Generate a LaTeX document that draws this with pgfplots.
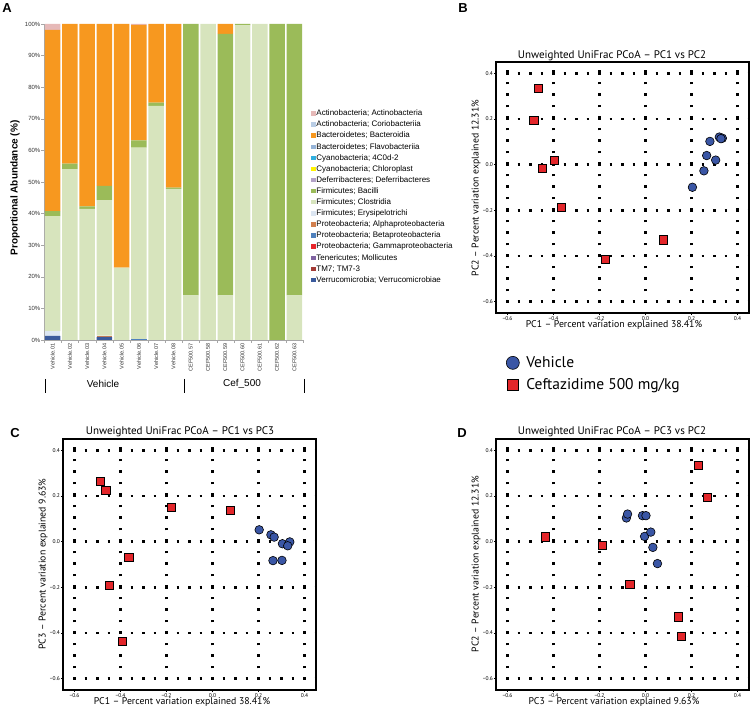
\documentclass[border=0pt]{standalone}
\usepackage{fontspec}
\setmainfont{Liberation Sans}
\newfontfamily\myr{PT Sans}
\usepackage{pgfplots}
\usepackage{pgfplotstable}
\pgfplotsset{compat=1.18}

\definecolor{cAct}{HTML}{E6B9B8}
\definecolor{cCor}{HTML}{B9CDE5}
\definecolor{cBact}{HTML}{F7981F}
\definecolor{cFlav}{HTML}{95B3D7}
\definecolor{cCfour}{HTML}{31B0E0}
\definecolor{cChl}{HTML}{FFF200}
\definecolor{cDef}{HTML}{B3A2C7}
\definecolor{cBac}{HTML}{9BBB59}
\definecolor{cClos}{HTML}{D7E4BD}
\definecolor{cErys}{HTML}{DCE6F2}
\definecolor{cAlpha}{HTML}{D2804F}
\definecolor{cBeta}{HTML}{4F81BD}
\definecolor{cGam}{HTML}{E8262A}
\definecolor{cTen}{HTML}{8064A2}
\definecolor{cTM}{HTML}{A33B36}
\definecolor{cVerr}{HTML}{3A5A9C}
\definecolor{vblue}{HTML}{3A56A5}
\definecolor{cred}{HTML}{E3262A}

\pgfplotstableread{
x Verr TM Ten Gam Beta Alpha Erys Clos Bac Def Chl Cfour Flav Bact Cor Act
0  1.3 0 0 0 0   0   1.5 36.4 1.6  0 0 0 0 57.3 0 1.9
1  0   0 0 0 0   0   0   54.1 1.7  0 0 0 0 44.2 0 0
2  0   0 0 0 0   0   0   41.5 0.8  0 0 0 0 57.7 0 0
3  1.0 0 0 0 0   0.4 0   42.9 4.5  0 0 0 0 51.2 0 0
4  0   0 0 0 0   0   0   22.9 0    0 0 0 0 77.1 0 0
5  0   0 0 0 0.3 0   0   60.6 2.3  0 0 0 0 36.5 0 0.3
6  0   0 0 0 0   0   0   74.1 1.0  0 0 0 0 24.9 0 0
7  0   0 0 0 0   0   0   47.8 0.4  0 0 0 0 51.8 0 0
8  0   0 0 0 0   0   0   14.1 85.9 0 0 0 0 0    0 0
9  0   0 0 0 0   0   0   100  0    0 0 0 0 0    0 0
10 0   0 0 0 0   0   0   14.1 82.8 0 0 0 0 3.1  0 0
11 0   0 0 0 0   0   0   99.6 0.4  0 0 0 0 0    0 0
12 0   0 0 0 0   0   0   100  0    0 0 0 0 0    0 0
13 0   0 0 0 0   0   0   0    100  0 0 0 0 0    0 0
14 0   0 0 0 0   0   0   14.1 85.9 0 0 0 0 0    0 0
}\bardata

\pgfplotsset{
  sqleg/.style={legend image code/.code={\fill[##1] (0pt,-2.2pt) rectangle (4.4pt,2.2pt);}},
  pcoa/.style={
    width=253pt, height=251pt, scale only axis,
    xmin=-0.65, xmax=0.45, ymin=-0.65, ymax=0.45,
    xtick={-0.6,-0.4,-0.2,0,0.2,0.4},
    ytick={-0.6,-0.4,-0.2,0,0.2,0.4},
    xticklabels={−0.6,−0.4,−0.2,0.0,0.2,0.4},
    yticklabels={−0.6,−0.4,−0.2,0.0,0.2,0.4},
    ticklabel style={font=\myr\fontsize{5.5}{6}\selectfont, inner sep=1pt},
    tick pos=left, tick align=outside, major tick length=2pt,
    tick style={black, line width=0.8pt},
    axis line style={line width=1.4pt},
    grid=major,
    major grid style={black, line width=2.6pt, dash pattern=on 2.6pt off 8.9pt, dash phase=1.3pt},
  },
  vmark/.style={only marks, mark=*, mark size=4.3pt, mark options={fill=vblue, draw=black, line width=0.6pt}},
  cmark/.style={only marks, mark=square*, mark size=4.1pt, mark options={fill=cred, draw=black, line width=0.6pt}},
}

\begin{document}
\begin{tikzpicture}
\useasboundingbox (0,0) rectangle (750pt,708pt);

% ---------------- Panel A ----------------
\begin{axis}[
  at={(44pt,368pt)}, anchor=south west,
  width=259pt, height=316pt, scale only axis,
  ybar stacked, bar width=15.5pt,
  xmin=-0.5, xmax=14.5, ymin=0, ymax=100,
  axis x line*=bottom, axis y line*=left,
  axis line style={gray!70, line width=0.4pt},
  xtick={0,...,14},
  xticklabels={Vehicle.01,Vehicle.02,Vehicle.03,Vehicle.04,Vehicle.05,Vehicle.06,Vehicle.07,Vehicle.08,CEF500.57,CEF500.58,CEF500.59,CEF500.60,CEF500.61,CEF500.62,CEF500.63},
  xticklabel style={rotate=90, anchor=east, font=\fontsize{5.5}{6}\selectfont, text=black!80, inner sep=1pt},
  major x tick style={draw=none},
  minor xtick={-0.5,0.5,...,14.5},
  minor x tick style={gray!70},
  minor tick length=3pt,
  ytick={0,10,...,100},
  yticklabels={0\%,10\%,20\%,30\%,40\%,50\%,60\%,70\%,80\%,90\%,100\%},
  yticklabel style={font=\fontsize{6}{7}\selectfont, text=black!80, inner sep=1pt},
  major y tick style={gray!70},
  tick align=outside, major tick length=2.5pt,
  reverse legend,
  legend cell align=left,
  legend style={at={(1.031,0.735)}, anchor=north west, draw=none, fill=none,
    font=\fontsize{8}{9}\selectfont, inner sep=0pt, row sep=0pt,
    nodes={inner ysep=0.8pt, inner xsep=0.8pt, text height=7pt, text depth=2.5pt}},
]
\addplot[fill=cVerr, draw=none, sqleg] table[x=x,y=Verr]{\bardata};
\addlegendentry{Verrucomicrobia; Verrucomicrobiae}
\addplot[fill=cTM, draw=none, sqleg] table[x=x,y=TM]{\bardata};
\addlegendentry{TM7; TM7-3}
\addplot[fill=cTen, draw=none, sqleg] table[x=x,y=Ten]{\bardata};
\addlegendentry{Tenericutes; Mollicutes}
\addplot[fill=cGam, draw=none, sqleg] table[x=x,y=Gam]{\bardata};
\addlegendentry{Proteobacteria; Gammaproteobacteria}
\addplot[fill=cBeta, draw=none, sqleg] table[x=x,y=Beta]{\bardata};
\addlegendentry{Proteobacteria; Betaproteobacteria}
\addplot[fill=cAlpha, draw=none, sqleg] table[x=x,y=Alpha]{\bardata};
\addlegendentry{Proteobacteria; Alphaproteobacteria}
\addplot[fill=cErys, draw=none, sqleg] table[x=x,y=Erys]{\bardata};
\addlegendentry{Firmicutes; Erysipelotrichi}
\addplot[fill=cClos, draw=none, sqleg] table[x=x,y=Clos]{\bardata};
\addlegendentry{Firmicutes; Clostridia}
\addplot[fill=cBac, draw=none, sqleg] table[x=x,y=Bac]{\bardata};
\addlegendentry{Firmicutes; Bacilli}
\addplot[fill=cDef, draw=none, sqleg] table[x=x,y=Def]{\bardata};
\addlegendentry{Deferribacteres; Deferribacteres}
\addplot[fill=cChl, draw=none, sqleg] table[x=x,y=Chl]{\bardata};
\addlegendentry{Cyanobacteria; Chloroplast}
\addplot[fill=cCfour, draw=none, sqleg] table[x=x,y=Cfour]{\bardata};
\addlegendentry{Cyanobacteria; 4C0d-2}
\addplot[fill=cFlav, draw=none, sqleg] table[x=x,y=Flav]{\bardata};
\addlegendentry{Bacteroidetes; Flavobacteriia}
\addplot[fill=cBact, draw=none, sqleg] table[x=x,y=Bact]{\bardata};
\addlegendentry{Bacteroidetes; Bacteroidia}
\addplot[fill=cCor, draw=none, sqleg] table[x=x,y=Cor]{\bardata};
\addlegendentry{Actinobacteria; Coriobacteriia}
\addplot[fill=cAct, draw=none, sqleg] table[x=x,y=Act]{\bardata};
\addlegendentry{Actinobacteria; Actinobacteria}
\end{axis}

\node[rotate=90, font=\bfseries\fontsize{10}{12}\selectfont] at (15pt,520pt) {Proportional Abundance (\%)};
\draw[black, line width=0.9pt] (45pt,329pt) -- (45pt,315pt);
\draw[black, line width=0.9pt] (184pt,329pt) -- (184pt,315pt);
\draw[black, line width=0.9pt] (304pt,329pt) -- (304pt,315pt);
\node[font=\fontsize{10}{12}\selectfont] at (103pt,324pt) {Vehicle};
\node[font=\fontsize{10}{12}\selectfont] at (242pt,324pt) {Cef\_500};

% ---------------- Panel B ----------------
\begin{axis}[pcoa, at={(496pt,395pt)}, anchor=south west,
  legend style={at={(0.04,-0.165)}, anchor=north west, draw=none, fill=none,
    font=\myr\fontsize{15.5}{18}\selectfont, inner sep=0pt, row sep=5pt,
    column sep=5pt, nodes={inner sep=2pt}},
  legend cell align=left]
\addplot[vmark, legend image post style={mark size=6.5pt}] table {
0.280 0.102
0.321 0.121
0.334 0.116
0.328 0.114
0.266 0.040
0.305 0.020
0.254 -0.027
0.204 -0.099
};
\addlegendentry{Vehicle}
\addplot[cmark, legend image post style={mark size=5.5pt}] table {
-0.466 0.335
-0.486 0.194
-0.397 0.020
-0.448 -0.017
-0.365 -0.188
0.077 -0.329
-0.176 -0.416
};
\addlegendentry{Ceftazidime 500 mg/kg}
\end{axis}
\node[font=\myr\fontsize{11}{12}\selectfont] at (612pt,652pt) {Unweighted UniFrac PCoA – PC1 vs PC2};
\node[font=\myr\fontsize{9.8}{11}\selectfont] at (614pt,383pt) {PC1 – Percent variation explained 38.41\%};
\node[rotate=90, font=\myr\fontsize{9.8}{11}\selectfont] at (476pt,520pt) {PC2 – Percent variation explained 12.31\%};

% ---------------- Panel C ----------------
\begin{axis}[pcoa, at={(63pt,18pt)}, anchor=south west]
\addplot[vmark] table {
0.203 0.052
0.254 0.030
0.268 0.020
0.304 -0.009
0.336 -0.001
0.327 -0.018
0.263 -0.083
0.302 -0.082
};
\addplot[cmark] table {
-0.487 0.264
-0.464 0.226
-0.178 0.150
0.076 0.139
-0.364 -0.070
-0.449 -0.191
-0.393 -0.435
};
\end{axis}
\node[font=\myr\fontsize{11}{12}\selectfont] at (180pt,276pt) {Unweighted UniFrac PCoA – PC1 vs PC3};
\node[font=\myr\fontsize{9.8}{11}\selectfont] at (182pt,6pt) {PC1 – Percent variation explained 38.41\%};
\node[rotate=90, font=\myr\fontsize{9.8}{11}\selectfont] at (43pt,144pt) {PC3 – Percent variation explained 9.63\%};

% ---------------- Panel D ----------------
\begin{axis}[pcoa, at={(496pt,18pt)}, anchor=south west]
\addplot[vmark] table {
-0.083 0.104
-0.078 0.121
-0.013 0.114
0.002 0.114
-0.004 0.023
0.023 0.042
0.032 -0.025
0.052 -0.096
};
\addplot[cmark] table {
0.230 0.335
0.267 0.194
-0.435 0.021
-0.187 -0.017
-0.068 -0.186
0.142 -0.329
0.155 -0.413
};
\end{axis}
\node[font=\myr\fontsize{11}{12}\selectfont] at (612pt,276pt) {Unweighted UniFrac PCoA – PC3 vs PC2};
\node[font=\myr\fontsize{9.8}{11}\selectfont] at (614pt,6pt) {PC3 – Percent variation explained 9.63\%};
\node[rotate=90, font=\myr\fontsize{9.8}{11}\selectfont] at (476pt,144pt) {PC2 – Percent variation explained 12.31\%};

% panel letters
\node[font=\bfseries\fontsize{13}{14}\selectfont] at (7pt,700pt) {A};
\node[font=\bfseries\fontsize{13}{14}\selectfont] at (463pt,700pt) {B};
\node[font=\bfseries\fontsize{13}{14}\selectfont] at (15pt,275pt) {C};
\node[font=\bfseries\fontsize{13}{14}\selectfont] at (462pt,275pt) {D};
\end{tikzpicture}
\end{document}
